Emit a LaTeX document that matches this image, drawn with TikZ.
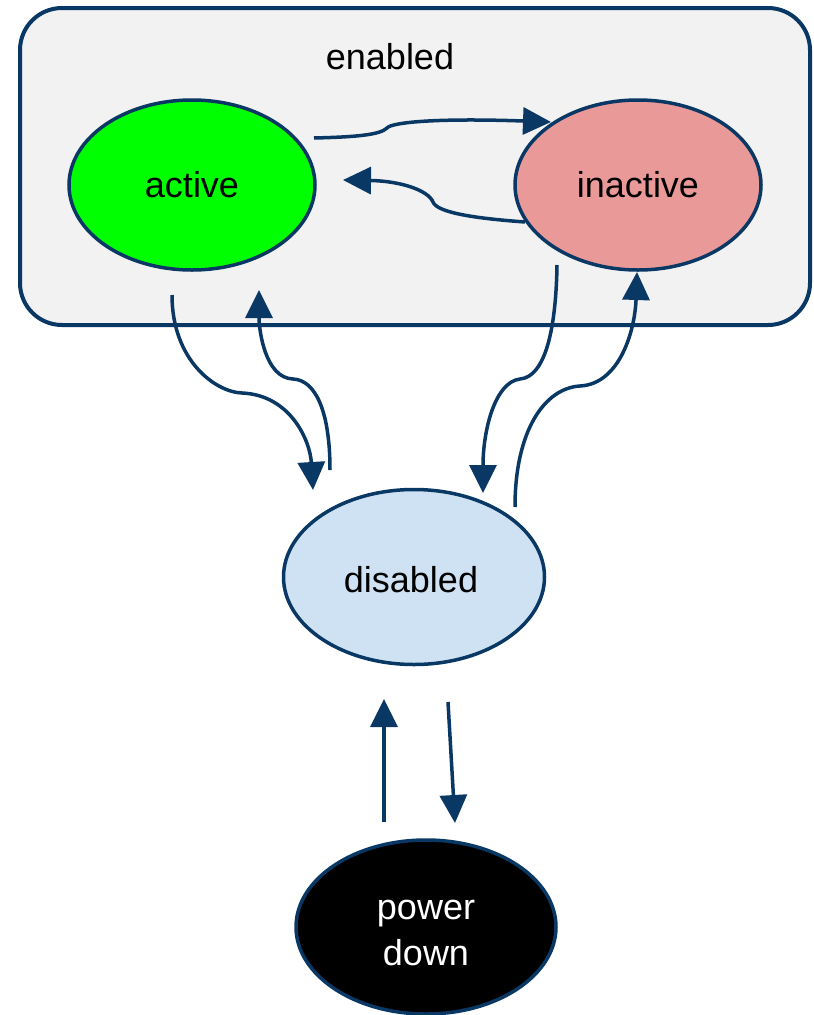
\documentclass[tikz,border=0pt]{standalone}
\usepackage{fontspec}
\setmainfont{Liberation Sans}
\usetikzlibrary{shapes.geometric,arrows.meta}
\definecolor{edgeblue}{RGB}{10,56,100}
\definecolor{boxfill}{RGB}{242,242,242}
\definecolor{activefill}{RGB}{0,255,0}
\definecolor{inactivefill}{RGB}{234,153,153}
\definecolor{disabledfill}{RGB}{207,226,243}
\tikzset{
  state/.style={ellipse, draw=edgeblue, line width=3.5pt, inner sep=0pt,
    font=\fontsize{36}{44}\selectfont, align=center},
  conn/.style={draw=edgeblue, line width=3.5pt,
    -{Triangle[length=28pt,width=27pt]}},
}
\begin{document}
\begin{tikzpicture}[x=1pt,y=-1pt]
\useasboundingbox (0,0) rectangle (814,1015);
\node[draw=edgeblue, fill=boxfill, line width=4pt, rounded corners=42pt,
  minimum width=790pt, minimum height=317pt, inner sep=0pt] (enabled) at (415,166.5) {};
\node[font=\fontsize{36}{44}\selectfont] (enabledlabel) at (390,57) {enabled};
\node[state, fill=activefill, minimum width=246pt, minimum height=170pt] (active) at (192,185) {active};
\node[state, fill=inactivefill, minimum width=246pt, minimum height=170pt] (inactive) at (638,185) {inactive};
\node[state, fill=disabledfill, minimum width=261pt, minimum height=175pt] (disabled) at (414,577) {};
\node[font=\fontsize{36}{44}\selectfont] (disabledlabel) at (411,580) {disabled};
\node[state, fill=black, minimum width=260pt, minimum height=174pt] (power) at (426,927) {};
\node[font=\fontsize{36}{46}\selectfont, text=white, align=center] (powerlabel) at (426,933) {power\\down};
% active -> inactive
\draw[conn] ([shift={(122,-47)}]active.center) .. controls (355,137) and (380,135) .. (387,128)
  .. controls (392,122) and (440,118) .. ([shift={(-87,-63)}]inactive.center);
% inactive -> active
\draw[conn] ([shift={(-113,37)}]inactive.center) .. controls (470,218) and (437,212) .. (433,202)
  .. controls (428,190) and (400,181) .. ([shift={(151,-5)}]active.center);
% active -> disabled
\draw[conn] ([shift={(-20,110)}]active.center) .. controls (172,360) and (215,392) .. (242,393)
  .. controls (290,395) and (310,440) .. ([shift={(-101,-87)}]disabled.center);
% disabled -> active
\draw[conn] ([shift={(-84,-107)}]disabled.center) .. controls (330,410) and (315,380) .. (293,379)
  .. controls (265,378) and (259,330) .. ([shift={(67,105)}]active.center);
% inactive -> disabled
\draw[conn] ([shift={(-81,80)}]inactive.center) .. controls (556,330) and (545,377) .. (520,379)
  .. controls (495,382) and (483,430) .. ([shift={(69,-84)}]disabled.center);
% disabled -> inactive
\draw[conn] ([shift={(101,-70)}]disabled.center) .. controls (515,430) and (545,388) .. (580,386)
  .. controls (620,384) and (635,330) .. ([shift={(-1,87)}]inactive.center);
% disabled -> power down
\draw[conn] ([shift={(34,125)}]disabled.center) -- ([shift={(29,-104)}]power.center);
% power down -> disabled
\draw[conn] ([shift={(-42,-105)}]power.center) -- ([shift={(-30,122)}]disabled.center);
\end{tikzpicture}
\end{document}
